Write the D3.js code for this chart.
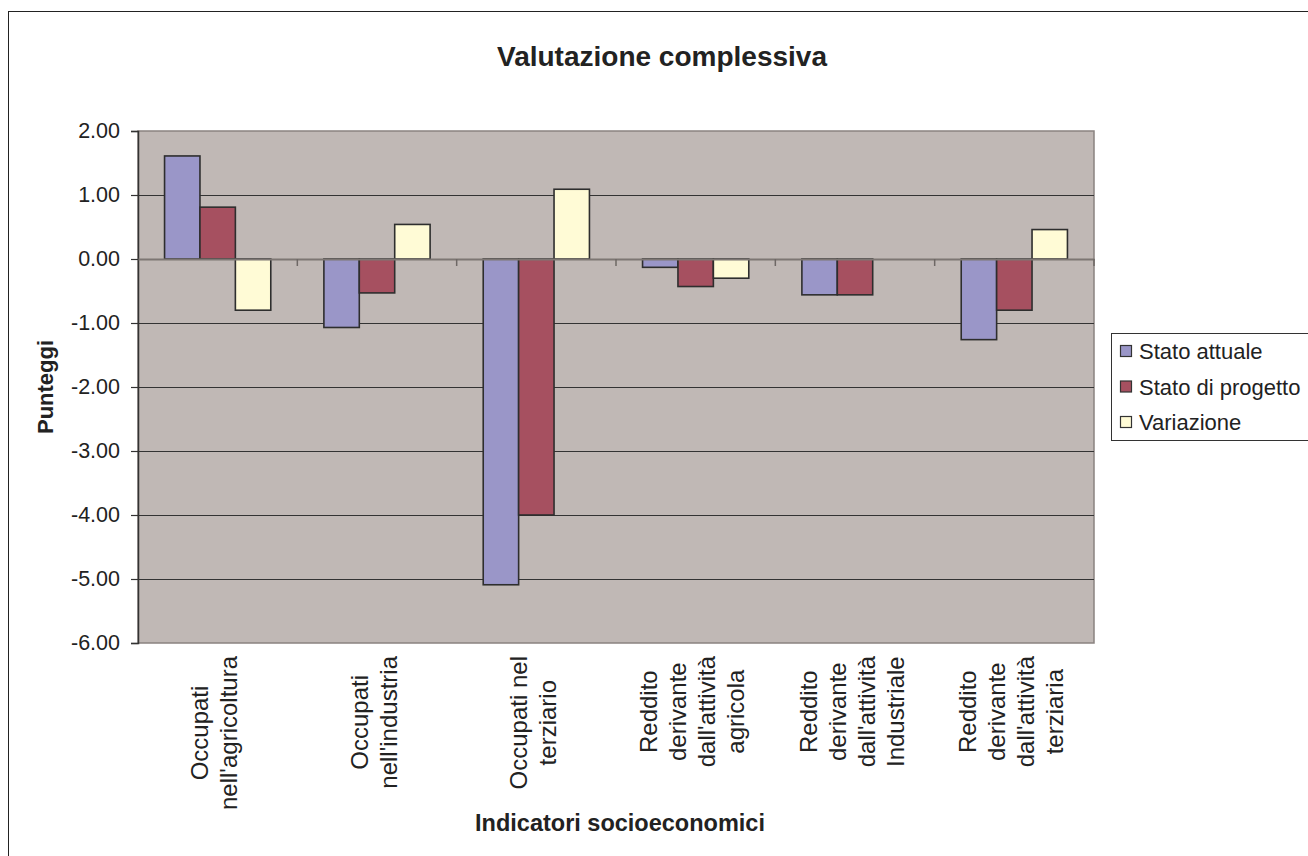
<!DOCTYPE html>
<html>
<head>
<meta charset="utf-8">
<script src="https://cdn.jsdelivr.net/npm/d3@7"></script>
<style>
  body { margin: 0; background: #fff; }
  text { font-family: Arial, "Liberation Sans", Helvetica, sans-serif; fill: #222; }
</style>
</head>
<body>
<script>
/*** Data ***/
categories = [
  ['Occupati', "nell'agricoltura"],
  ['Occupati', "nell'industria"],
  ['Occupati nel', 'terziario'],
  ['Reddito', 'derivante', "dall'attività", 'agricola'],
  ['Reddito', 'derivante', "dall'attività", 'Industriale'],
  ['Reddito', 'derivante', "dall'attività", 'terziaria']
]
seriesNames = ['Stato attuale', 'Stato di progetto', 'Variazione']
statoAttuale = [1.61, -1.07, -5.09, -0.13, -0.56, -1.26]
statoProgetto = [0.81, -0.53, -4.00, -0.43, -0.56, -0.80]
variazione = [-0.80, 0.54, 1.09, -0.30, 0.00, 0.46]
yTicks = [2, 1, 0, -1, -2, -3, -4, -5, -6]
colors = ['#9a96c8', '#a65060', '#fffbd6']

// Main
function renderChart(){
  w = 1308
  h = 856
  plot = {left: 138, right: 1094, top: 131, bottom: 643}

  svg = d3.select('body')
          .append('svg')
          .attr('width', w)
          .attr('height', h)

  // outer frame
  svg.append('rect')
     .attr('x', 8.5).attr('y', 11.5)
     .attr('width', w - 8).attr('height', h - 11)
     .attr('fill', '#fff').attr('stroke', '#222').attr('stroke-width', 1)

  series = [statoAttuale, statoProgetto, variazione]
  idx = d3.range(categories.length)

  // Scales
  xScale = d3.scaleBand()
             .domain(idx)
             .range([plot.left, plot.right])
             .paddingInner(0).paddingOuter(0)

  innerScale = d3.scaleBand()
                 .domain(d3.range(series.length))
                 .range([0, xScale.bandwidth()])
                 .paddingInner(0).paddingOuter(0.75)

  yScale = d3.scaleLinear()
             .domain([-6, 2])
             .range([plot.bottom, plot.top])

  // plot background
  svg.append('rect')
     .attr('x', plot.left).attr('y', plot.top)
     .attr('width', plot.right - plot.left).attr('height', plot.bottom - plot.top)
     .attr('fill', '#c0b8b5').attr('stroke', '#8a8380').attr('stroke-width', 1.5)

  // gridlines
  svg.append('g')
     .selectAll('line')
     .data(yTicks.filter(t => t != 0 && t != -6 && t != 2))
     .enter()
       .append('line')
       .attr('x1', plot.left).attr('x2', plot.right)
       .attr('y1', d => Math.round(yScale(d)) + 0.5)
       .attr('y2', d => Math.round(yScale(d)) + 0.5)
       .attr('stroke', '#333').attr('stroke-width', 1.2)

  // Y axis
  yAxis = d3.axisLeft(yScale)
            .tickValues(yTicks)
            .tickFormat(d3.format('.2f'))
            .tickSize(7)
            .tickPadding(11)

  gy = svg.append('g')
          .attr('transform', `translate(${plot.left}, 0)`)
          .call(yAxis)
  gy.select('.domain').attr('stroke', '#333').attr('stroke-width', 1.5)
  gy.selectAll('.tick line').attr('stroke', '#333').attr('stroke-width', 1.2)
  gy.selectAll('.tick text')
    .style('font-size', '21.5px').attr('fill', '#222')
    .text(d => d3.format('.2f')(d).replace('−', '-'))

  // Bars
  groups = svg.append('g')
              .selectAll('g')
              .data(series)
              .enter()
                .append('g')
                .attr('fill', (d, i) => colors[i])

  groups.selectAll('rect')
        .data((d, si) => d.map((v, ci) => ({v: v, ci: ci, si: si})))
        .enter()
          .filter(d => d.v != 0)
          .append('rect')
          .attr('x', d => xScale(d.ci) + innerScale(d.si))
          .attr('width', innerScale.bandwidth())
          .attr('y', d => yScale(Math.max(0, d.v)))
          .attr('height', d => Math.abs(yScale(d.v) - yScale(0)))
          .attr('stroke', '#2e2e2e')
          .attr('stroke-width', 1.6)

  // category axis at zero
  xAxis = d3.axisBottom(xScale)
            .tickValues([])
            .tickSizeOuter(0)

  gx = svg.append('g')
          .attr('transform', `translate(0, ${yScale(0)})`)
          .call(xAxis)
  gx.select('.domain').attr('stroke', '#7d7673').attr('stroke-width', 2)

  gx.selectAll('.cat-tick')
    .data(idx.slice(1).concat([categories.length]))
    .enter()
      .append('line')
      .attr('x1', d => plot.left + d * xScale.bandwidth())
      .attr('x2', d => plot.left + d * xScale.bandwidth())
      .attr('y1', 0).attr('y2', 7)
      .attr('stroke', '#6e6865').attr('stroke-width', 1.5)

  // category labels, rotated
  labelTop = 656
  lineGap = 29
  labelShift = 5
  catLabels = svg.append('g')
                 .selectAll('g')
                 .data(categories)
                 .enter()
                   .append('g')

  catLabels.each(function(lines, ci){
    let g = d3.select(this)
    let cx = xScale(ci) + xScale.bandwidth() / 2
    let texts = lines.map((ln, li) => {
      return g.append('text')
              .attr('text-anchor', 'middle')
              .style('font-size', '24px')
              .text(ln)
    })
    let maxLen = d3.max(texts, t => t.node().getComputedTextLength())
    texts.forEach((t, li) => {
      let lx = cx + (li - (lines.length - 1) / 2) * lineGap + labelShift
      t.attr('transform', `translate(${lx}, ${labelTop + maxLen / 2}) rotate(-90)`)
    })
  })

  // Titles
  svg.append('text')
     .attr('x', 662).attr('y', 66)
     .attr('text-anchor', 'middle')
     .style('font-size', '28px').style('font-weight', 'bold')
     .text('Valutazione complessiva')

  svg.append('text')
     .attr('transform', `translate(53, ${(plot.top + plot.bottom) / 2}) rotate(-90)`)
     .attr('text-anchor', 'middle')
     .style('font-size', '22px').style('font-weight', 'bold')
     .text('Punteggi')

  svg.append('text')
     .attr('x', 620).attr('y', 831)
     .attr('text-anchor', 'middle')
     .style('font-size', '23.5px').style('font-weight', 'bold')
     .text('Indicatori socioeconomici')

  // Legend
  legend = svg.append('g')
  legend.append('rect')
        .attr('x', 1111.5).attr('y', 333.5)
        .attr('width', 210).attr('height', 107)
        .attr('fill', '#fff').attr('stroke', '#333').attr('stroke-width', 1)

  items = legend.selectAll('.item')
                .data(seriesNames)
                .enter()
                  .append('g')
                  .attr('transform', (d, i) => `translate(1120, ${351 + i * 35.5})`)

  items.append('rect')
       .attr('x', 0.5).attr('y', -5.5)
       .attr('width', 11).attr('height', 11)
       .attr('fill', (d, i) => colors[i])
       .attr('stroke', '#333').attr('stroke-width', 1.2)

  items.append('text')
       .attr('x', 19).attr('y', 8)
       .style('font-size', '22px')
       .text(d => d)
}

renderChart()
</script>
</body>
</html>
